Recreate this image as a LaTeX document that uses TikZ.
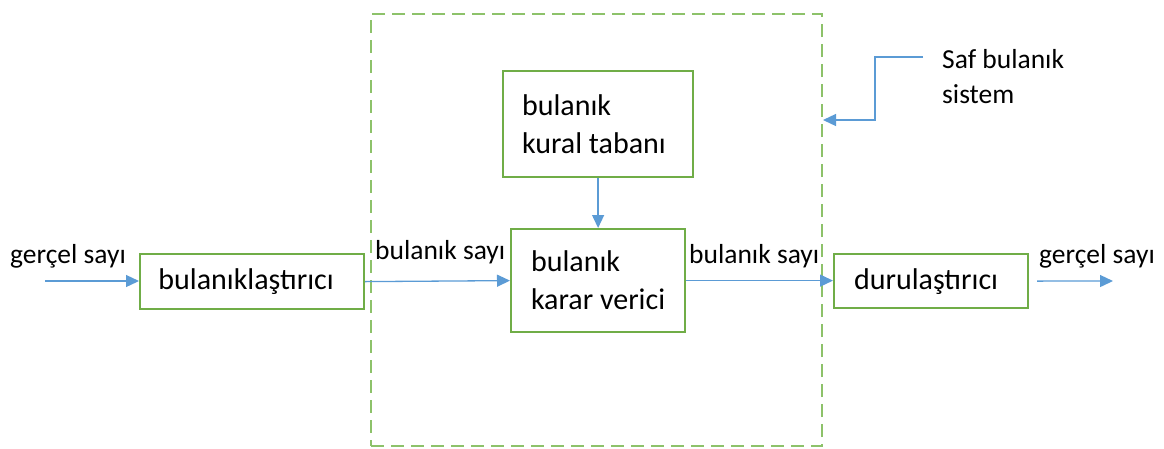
\documentclass[tikz,border=0pt]{standalone}
\usepackage{fontspec}
\setmainfont{Carlito}
\usetikzlibrary{arrows.meta}
\definecolor{boxgreen}{HTML}{70AD47}
\definecolor{dashgreen}{HTML}{8DC26A}
\definecolor{arrowblue}{HTML}{5B9BD5}
\begin{document}
\begin{tikzpicture}[x=1pt,y=-1pt,
  font=\fontsize{27.5}{35}\selectfont,
  block/.style={draw=boxgreen, line width=2.2pt, rectangle, anchor=north west, inner sep=0pt,
                font=\fontsize{30}{38}\selectfont},
  lblock/.style={block, align=flush left, inner xsep=19pt},
  arr/.style={draw=arrowblue, line width=1.3pt, -{Triangle[length=13pt,width=12pt]}},
  lbl/.style={anchor=base west, inner sep=0pt}]
\useasboundingbox (0,0) rectangle (1164,448);

% pure fuzzy system frame
\node[draw=dashgreen, line width=2pt, dash pattern=on 13pt off 7pt,
      minimum width=451pt, minimum height=432pt, anchor=north west, inner sep=0pt]
      (sys) at (370,13) {};

% processing blocks
\node[block, minimum width=224pt, minimum height=55pt] (fuz) at (139,253) {bulanıklaştırıcı\kern12pt};
\node[lblock, minimum width=190pt, minimum height=106pt, text width=152pt] (rules) at (502,70) {bulanık\\kural tabanı};
\node[lblock, minimum width=173pt, minimum height=103pt, text width=134pt, inner xsep=20pt] (inf) at (510,228) {bulanık\\karar verici};
\node[block, minimum width=194pt, minimum height=54pt] (defuz) at (833,253) {durulaştırıcı\kern10pt};

% signal labels
\node[lbl] (in) at (10,263) {gerçel sayı};
\node[lbl] (f1) at (375,259) {bulanık sayı};
\node[lbl] (f2) at (689,263) {bulanık sayı};
\node[lbl] (out) at (1039,263) {gerçel sayı};
\node[lbl, align=left] (saf) at (942,103) {Saf bulanık\\sistem};

% free ends of connectors
\coordinate (src) at (45,281);
\coordinate (dst) at (1113,281);
\coordinate (safstart) at (923,57);
\coordinate (bend) at (875,120);

% connectors
\draw[arr] (src) -- (fuz.west |- src);
\draw[arr] (fuz.east) -- (inf.west);
\draw[arr] (rules.south) -- (inf.north -| rules.south);
\draw[arr] (inf.east) -- (defuz.west |- inf.east);
\draw[arr] ([xshift=8pt]defuz.east) -- (dst);
\draw[arr] (safstart) -| (bend) -- (bend -| sys.east);
\end{tikzpicture}
\end{document}
